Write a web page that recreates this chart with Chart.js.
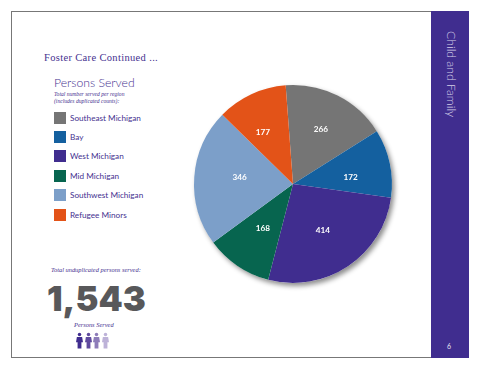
<!DOCTYPE html>
<html>
<head>
<meta charset="utf-8">
<script src="https://cdn.jsdelivr.net/npm/chart.js@4"></script>
<style>
  html, body { margin: 0; padding: 0; background: #fff; }
  #page { position: relative; width: 480px; height: 371px; overflow: hidden; color: #45318f; font-family: "Lato", sans-serif; }
  #page > * { position: absolute; white-space: nowrap; }
  #frame { left: 11px; top: 11px; width: 420px; height: 347px; border: 1px solid #777; border-right: 0; box-sizing: border-box; }
  #band { left: 431px; top: 11px; width: 38px; height: 347px; background: #402d8f; }
  #band-title { left: 444px; top: 31px; color: #d5cfe8; font-size: 12.2px; line-height: 14px; font-weight: 300; writing-mode: vertical-rl; }
  #page-no { left: 447px; top: 342px; color: #e6e2f2; font-size: 7px; line-height: 9px; }
  #title { left: 44px; top: 51px; font: 10.5px/14px "Liberation Serif", serif; letter-spacing: .34px; }
  #head { left: 54px; top: 75px; font-size: 12.2px; line-height: 16px; font-weight: 300; }
  .note { font: italic 5.6px/6.5px "Liberation Serif", serif; }
  #note1 { left: 54px; top: 91px; }
  #note2 { left: 51px; top: 266px; font-size: 6.4px; line-height: 8px; }
  #note3 { left: 74px; top: 321px; font-size: 6.4px; line-height: 8px; }
  #legend { left: 54px; top: 108px; }
  .row { display: flex; align-items: center; height: 19.4px; font-size: 8.2px; }
  .swatch { width: 12px; height: 12px; margin-right: 4px; }
  #total { left: 47px; top: 279px; color: #58585a; font: 900 34.5px/40px "Inter", sans-serif; letter-spacing: 0; }
  #people { left: 76px; top: 332px; display: flex; gap: 1.5px; }
  #pie { left: 183px; top: 74px; }
</style>
</head>
<body>
<div id="page">
  <div id="frame"></div>
  <div id="band"></div>
  <div id="band-title">Child and Family</div>
  <div id="page-no">6</div>
  <div id="title">Foster Care Continued ...</div>
  <div id="head">Persons Served</div>
  <div id="note1" class="note">Total number served per region<br>(includes duplicated counts):</div>
  <div id="legend"></div>
  <div id="note2" class="note">Total unduplicated persons served:</div>
  <div id="total">1,543</div>
  <div id="note3" class="note">Persons Served</div>
  <div id="people"></div>
  <canvas id="pie" width="220" height="220"></canvas>
</div>
<script>
// Data
const regions = ["Southeast Michigan", "Bay", "West Michigan", "Mid Michigan", "Southwest Michigan", "Refugee Minors"]
const served = [266, 172, 414, 168, 346, 177]
const sliceColors = ["#757575", "#14609f", "#402d8f", "#07654f", "#7c9fc9", "#e35318"]
const peopleColors = ["#402d8f", "#5f4a9e", "#8d7cb9", "#bdb2d8"]

// The labels in the original are hand placed, not exactly mid-slice
const labelNudge = [[2, -3], [1.5, 5], [-2, -1], [2, -3.5], [4, -3], [-6, 0]]

// Legend on the left
const legend = document.getElementById("legend")
regions.forEach((name, i) => {
  const row = document.createElement("div")
  row.className = "row"
  row.innerHTML = `<span class="swatch" style="background:${sliceColors[i]}"></span>${name}`
  legend.appendChild(row)
})

// Little people icons under the total
const people = document.getElementById("people")
peopleColors.forEach(color => {
  people.innerHTML += `<svg width="7" height="17" viewBox="0 0 8 18"><circle cx="4" cy="2" r="2" fill="${color}"/><path d="M1 5h6l1 6H6.200v7H1.800v-7H0z" fill="${color}"/></svg>`
})

// Soft shadow behind the whole pie
const pieShadow = {
  id: "pieShadow",
  beforeDatasetsDraw(chart) {
    const arc = chart.getDatasetMeta(0).data[0]
    const { ctx } = chart
    ctx.save()
    ctx.shadowColor = "rgba(0, 0, 0, 0.45)"
    ctx.shadowBlur = 5
    ctx.shadowOffsetX = 2.5
    ctx.shadowOffsetY = 3
    ctx.fillStyle = "#fff"
    ctx.beginPath()
    ctx.arc(arc.x, arc.y, arc.outerRadius, 0, Math.PI * 2)
    ctx.fill()
    ctx.restore()
  }
}

// White value labels inside the slices
const sliceLabels = {
  id: "sliceLabels",
  afterDatasetsDraw(chart) {
    const { ctx } = chart
    ctx.save()
    ctx.fillStyle = "#fff"
    ctx.font = "bold 8.2px Lato, sans-serif"
    ctx.textAlign = "center"
    ctx.textBaseline = "middle"
    chart.getDatasetMeta(0).data.forEach((arc, i) => {
      const mid = (arc.startAngle + arc.endAngle) / 2
      const r = arc.outerRadius * 0.58
      const [dx, dy] = labelNudge[i]
      ctx.fillText(served[i], arc.x + Math.cos(mid) * r + dx, arc.y + Math.sin(mid) * r + dy)
    })
    ctx.restore()
  }
}

new Chart(document.getElementById("pie"), {
  type: "pie",
  data: {
    labels: regions,
    datasets: [{ data: served, backgroundColor: sliceColors, borderWidth: 0 }]
  },
  options: {
    responsive: false,
    animation: false,
    rotation: -4.25,
    layout: { padding: 11 },
    plugins: {
      legend: { display: false },
      tooltip: { enabled: false }
    }
  },
  plugins: [pieShadow, sliceLabels]
})
</script>
</body>
</html>
